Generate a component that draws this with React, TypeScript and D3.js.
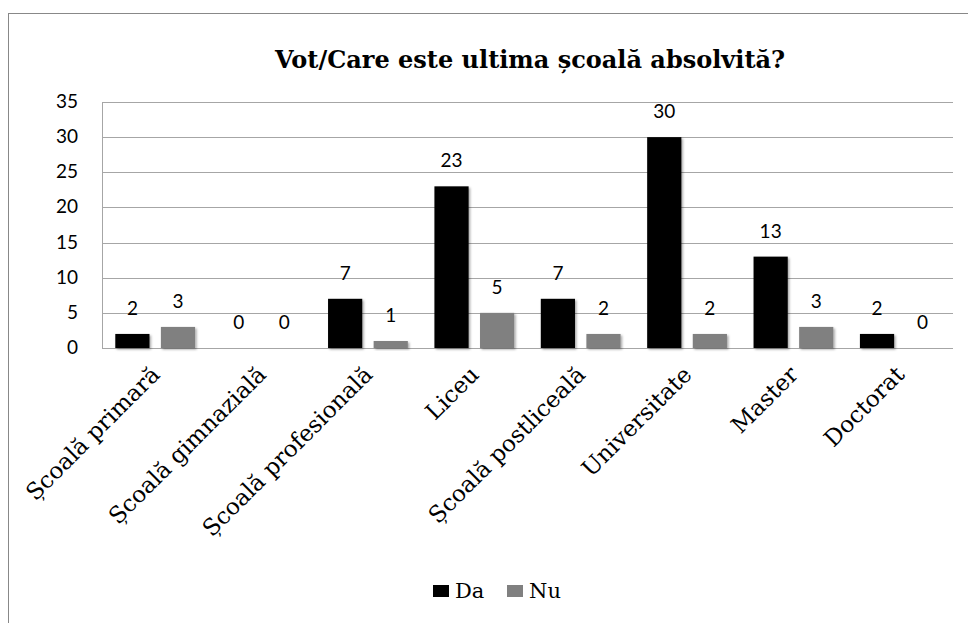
import React, { useEffect, useRef } from "react";
import * as d3 from "d3";

const categories = [
  "Școală primară",
  "Școală gimnazială",
  "Școală profesională",
  "Liceu",
  "Școală postliceală",
  "Universitate",
  "Master",
  "Doctorat",
];
const seriesNames = ["Da", "Nu"];
const daValues = [2, 0, 7, 23, 7, 30, 13, 2];
const nuValues = [3, 0, 1, 5, 2, 2, 3, 0];
const yTicks = [0, 5, 10, 15, 20, 25, 30, 35];
const colors = ["#000000", "#808080"];
const title = "Vot/Care este ultima școală absolvită?";

const serif = "'DejaVu Serif', serif";
const sans = "Lato, sans-serif";

export default function App() {
  const ref = useRef<SVGSVGElement>(null);

  useEffect(() => {
    const W = 968, H = 623;
    const margin = { top: 102, right: 15, bottom: 275, left: 102 };
    const w = W - margin.left - margin.right;
    const h = H - margin.top - margin.bottom;

    const svg = d3.select(ref.current);
    svg.selectAll("*").remove();

    const defs = svg.append("defs");
    const f = defs.append("filter").attr("id", "shadow").attr("x", "-20%").attr("y", "-20%").attr("width", "150%").attr("height", "150%");
    f.append("feDropShadow").attr("dx", 1.5).attr("dy", 1.5).attr("stdDeviation", 1.2).attr("flood-color", "#000").attr("flood-opacity", 0.35);

    // outer border
    svg.append("rect")
      .attr("x", 8.5).attr("y", 13.5)
      .attr("width", W - 8).attr("height", H)
      .attr("fill", "#fff").attr("stroke", "#888").attr("stroke-width", 1);

    svg.append("text")
      .attr("x", 530).attr("y", 68)
      .attr("text-anchor", "middle")
      .attr("font-family", serif)
      .attr("font-weight", "bold")
      .attr("font-size", 24)
      .text(title);

    const g = svg.append("g").attr("transform", `translate(${margin.left},${margin.top})`);

    const x0 = d3.scaleBand().domain(categories).range([0, w]).paddingInner(0.25).paddingOuter(0.125);
    const x1 = d3.scaleBand().domain(seriesNames).range([0, x0.bandwidth()]).paddingInner(0.25);
    const y = d3.scaleLinear().domain([0, 35]).range([h, 0]);

    // gridlines
    g.selectAll(".grid")
      .data(yTicks)
      .join("line")
      .attr("class", "grid")
      .attr("x1", 0).attr("x2", w)
      .attr("y1", (d) => Math.round(y(d)) + 0.5)
      .attr("y2", (d) => Math.round(y(d)) + 0.5)
      .attr("stroke", "#a6a6a6").attr("stroke-width", 1);

    g.append("line")
      .attr("x1", 0.5).attr("x2", 0.5)
      .attr("y1", Math.round(y(35)) + 0.5).attr("y2", Math.round(y(0)) + 0.5)
      .attr("stroke", "#a6a6a6");

    g.selectAll(".ytick")
      .data(yTicks)
      .join("text")
      .attr("class", "ytick")
      .attr("x", -24)
      .attr("y", (d) => y(d) + 6)
      .attr("text-anchor", "end")
      .attr("font-family", sans)
      .attr("font-size", 19)
      .attr("fill", "#000")
      .text((d) => d);

    const data = categories.map((c, i) => ({ c, vals: [daValues[i], nuValues[i]] }));

    const groups = g.selectAll(".grp")
      .data(data)
      .join("g")
      .attr("class", "grp")
      .attr("transform", (d) => `translate(${x0(d.c)},0)`);

    groups.selectAll("rect")
      .data((d) => d.vals.map((v, j) => ({ s: seriesNames[j], v, j })))
      .join("rect")
      .attr("x", (d) => x1(d.s)!)
      .attr("y", (d) => y(d.v))
      .attr("width", x1.bandwidth())
      .attr("height", (d) => h - y(d.v))
      .attr("fill", (d) => colors[d.j])
      .attr("filter", "url(#shadow)");

    groups.selectAll("text")
      .data((d) => d.vals.map((v, j) => ({ s: seriesNames[j], v, j })))
      .join("text")
      .attr("x", (d) => x1(d.s)! + x1.bandwidth() / 2)
      .attr("y", (d) => y(d.v) - 19)
      .attr("text-anchor", "middle")
      .attr("font-family", sans)
      .attr("font-size", 19)
      .text((d) => d.v);

    // x labels
    g.selectAll(".xlab")
      .data(categories)
      .join("text")
      .attr("class", "xlab")
      .attr("text-anchor", "end")
      .attr("font-family", serif)
      .attr("font-size", 23)
      .attr("transform", (d) => `translate(${x0(d)! + x0.bandwidth() / 2 + 6},${h + 28}) rotate(-45)`)
      .text((d) => d);

    // legend
    const legend = svg.append("g").attr("transform", "translate(433,585)");
    const items = [{ n: "Da", x: 0 }, { n: "Nu", x: 74 }];
    items.forEach((it, i) => {
      legend.append("rect").attr("x", it.x).attr("y", 0).attr("width", 16).attr("height", 12).attr("fill", colors[i]);
      legend.append("text")
        .attr("x", it.x + 22).attr("y", 13)
        .attr("font-family", serif)
        .attr("font-size", 21)
        .text(it.n);
    });
  }, []);

  return <svg ref={ref} width={968} height={623} style={{ position: "absolute", left: 0, top: 0 }} />;
}
